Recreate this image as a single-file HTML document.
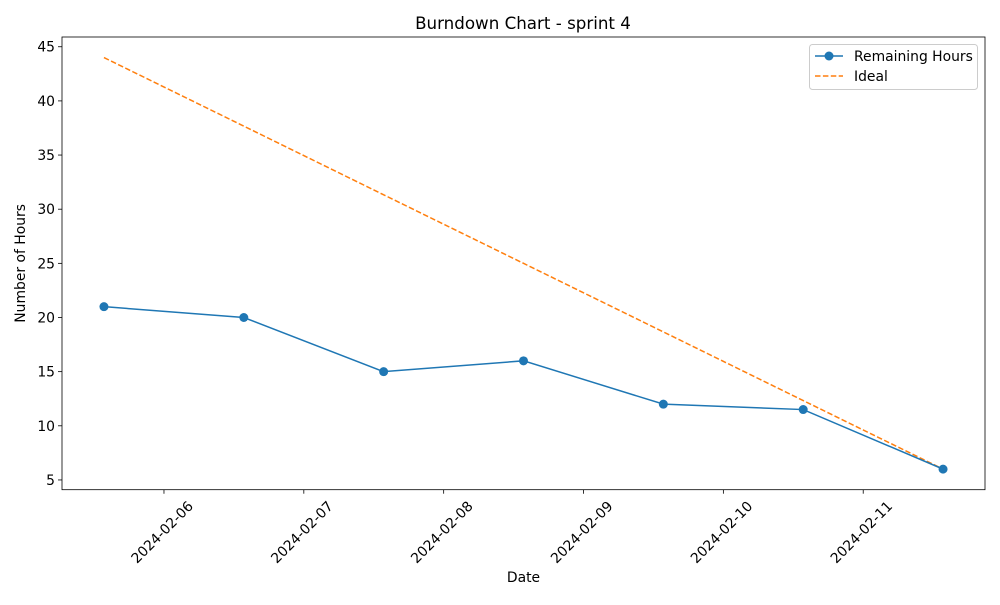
<!DOCTYPE html>
<html><head><meta charset="utf-8"><style>
body{margin:0;background:#fff;}
svg{font-family:"DejaVu Sans","Liberation Sans",sans-serif;}
</style></head><body>
<svg id="chart" width="1000" height="600" viewBox="0 0 1000 600" xmlns="http://www.w3.org/2000/svg"></svg>
<script>
const dates = ["2024-02-05T13:42","2024-02-06T13:42","2024-02-07T13:42","2024-02-08T13:42","2024-02-09T13:42","2024-02-10T13:42","2024-02-11T13:42"];
const remaining = [21,20,15,16,12,11.5,6];
const ideal = [44,37.67,31.33,25,18.67,12.33,6];
const xTickLabels = ["2024-02-06","2024-02-07","2024-02-08","2024-02-09","2024-02-10","2024-02-11"];
const yTicks = [5,10,15,20,25,30,35,40,45];

const NS="http://www.w3.org/2000/svg";
const svg=document.getElementById('chart');
const L=62,R=985,T=37,B=489.7;
const FS=13.9;
const day=s=>Date.parse(s+":00Z")/86400000;
const xs=dates.map(day);
const xmin=Math.min(...xs),xmax=Math.max(...xs),xpad=(xmax-xmin)*0.05;
const allY=remaining.concat(ideal);
const ymin0=Math.min(...allY),ymax0=Math.max(...allY),ypad=(ymax0-ymin0)*0.05;
const X=v=>L+(v-(xmin-xpad))/((xmax+xpad)-(xmin-xpad))*(R-L);
const Y=v=>B-(v-(ymin0-ypad))/((ymax0+ypad)-(ymin0-ypad))*(B-T);
function el(tag,attrs,parent){const e=document.createElementNS(NS,tag);for(const k in attrs)e.setAttribute(k,attrs[k]);(parent||svg).appendChild(e);return e;}

let t=el('text',{x:523,y:29,'text-anchor':'middle','font-size':16.7});t.textContent="Burndown Chart - sprint 4";



yTicks.forEach(v=>{
  const y=Y(v);
  const ln=el('line',{x1:L-4,x2:L,y1:y,y2:y,stroke:'#000','stroke-width':0.8});
  
  
  const tx=el('text',{x:L-7,y:y+5,'text-anchor':'end','font-size':FS});tx.textContent=v;
  
  
});
xTickLabels.forEach(s=>{
  const x=X(day(s+"T00:00"));
  const ln=el('line',{x1:x,x2:x,y1:B,y2:B+4,stroke:'#000','stroke-width':0.8});
  
  
  const cy=532;
  const tx=el('text',{x:x-2,y:cy+5,'text-anchor':'middle','font-size':FS,transform:`rotate(-45 ${x-2} ${cy})`});tx.textContent=s;
  
  
});
let xl=el('text',{x:(L+R)/2,y:582,'text-anchor':'middle','font-size':FS});xl.textContent="Date";


let yl=el('text',{x:25,y:(T+B)/2,'text-anchor':'middle','font-size':FS,transform:`rotate(-90 25 ${(T+B)/2})`});yl.textContent="Number of Hours";



let ip=el('polyline',{points:xs.map((x,i)=>X(x)+','+Y(ideal[i])).join(' '),fill:'none',stroke:'#ff7f0e','stroke-width':1.5,'stroke-dasharray':'5.5,2.4'});


let rp=el('polyline',{points:xs.map((x,i)=>X(x)+','+Y(remaining[i])).join(' '),fill:'none',stroke:'#1f77b4','stroke-width':1.5});


xs.forEach((x,i)=>{
  const c=el('circle',{cx:X(x),cy:Y(remaining[i]),r:4.5,fill:'#1f77b4'});
  
  
});

let fr=el('rect',{x:L,y:T,width:R-L,height:B-T,fill:'none',stroke:'#000','stroke-width':0.8});



const g=el('g',{});


el('rect',{x:809.5,y:44.5,width:168,height:45,rx:3,fill:'#fff',stroke:'#ccc'},g);
el('line',{x1:815,x2:843,y1:56,y2:56,stroke:'#1f77b4','stroke-width':1.5},g);
el('circle',{cx:829,cy:56,r:4.5,fill:'#1f77b4'},g);
let l1=el('text',{x:854,y:61,'font-size':FS},g);l1.textContent="Remaining Hours";
el('line',{x1:815,x2:843,y1:76,y2:76,stroke:'#ff7f0e','stroke-width':1.5,'stroke-dasharray':'5.5,2.4'},g);
let l2=el('text',{x:854,y:81,'font-size':FS},g);l2.textContent="Ideal";
</script>
</body></html>
